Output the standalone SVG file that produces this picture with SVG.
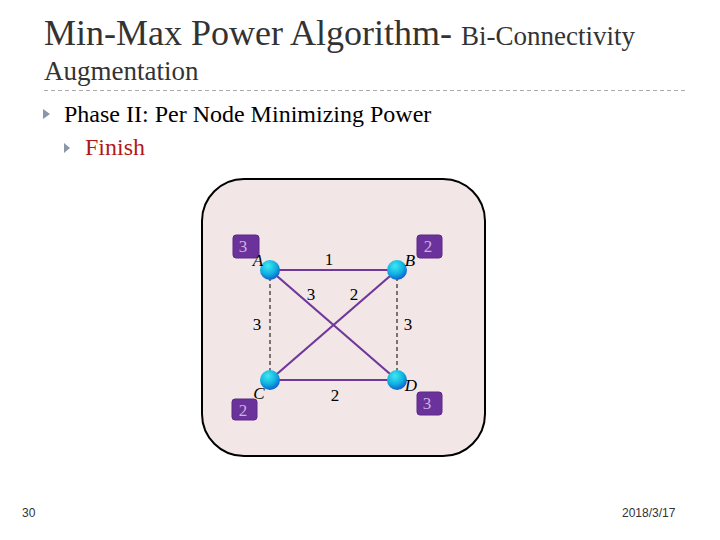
<svg xmlns="http://www.w3.org/2000/svg" width="720" height="540" viewBox="0 0 720 540">
<style>
.serif{font-family:'Times New Roman','Liberation Serif',Tinos,'DejaVu Serif',serif;}
.lbl{font-family:'Times New Roman','Liberation Serif',Tinos,'DejaVu Serif',serif;font-size:17px;fill:#000;text-anchor:middle;}
.nm{font-family:'Times New Roman','Liberation Serif',Tinos,'DejaVu Serif',serif;font-size:17px;font-style:italic;fill:#000;text-anchor:middle;}
.box{fill:#6a329a;stroke:#5a2a85;stroke-width:1;}
.boxt{font-family:'Times New Roman','Liberation Serif',Tinos,'DejaVu Serif',serif;font-size:17px;fill:#c8b4e0;text-anchor:middle;}
.edge{stroke:#70389a;stroke-width:2.2;fill:none;}
.dash{stroke:#000;stroke-width:1;stroke-dasharray:4,3;fill:none;}
.foot{font-family:'Liberation Sans Narrow','Liberation Sans',Arial,sans-serif;font-size:12px;fill:#333;}
</style>
<defs>
<radialGradient id="ng" cx="0.4" cy="0.3" r="0.7">
<stop offset="0" stop-color="#40e8f0"/>
<stop offset="0.6" stop-color="#10b0e0"/>
<stop offset="1" stop-color="#1060d0"/>
</radialGradient>
</defs>
<rect width="720" height="540" fill="#fff"/>
<text x="44" y="45" class="serif" font-size="36" fill="#333">Min-Max Power Algorithm- <tspan font-size="27">Bi-Connectivity</tspan></text>
<text x="44" y="80" class="serif" font-size="27" fill="#333">Augmentation</text>
<line x1="44" y1="90.5" x2="686" y2="90.5" stroke="#aaa" stroke-width="1" stroke-dasharray="4,3"/>
<path d="M43 109 L50 114 L43 119 Z" fill="#8898a8"/>
<text x="64" y="122" class="serif" font-size="24" fill="#000">Phase II: Per Node Minimizing Power</text>
<path d="M64 143 L70 148 L64 153 Z" fill="#8898a8"/>
<text x="85" y="155" class="serif" font-size="24" fill="#b01818">Finish</text>
<rect x="202" y="179" width="283" height="277" rx="42" ry="42" fill="#f2e6e6" stroke="#000" stroke-width="2"/>
<g id="connectors">
<line class="dash" x1="270" y1="270" x2="270" y2="380"/>
<line class="dash" x1="397" y1="270" x2="397" y2="380"/>
<line class="edge" x1="270" y1="270" x2="397" y2="270"/>
<line class="edge" x1="270" y1="380" x2="397" y2="380"/>
<line class="edge" x1="270" y1="270" x2="397" y2="380"/>
<line class="edge" x1="397" y1="270" x2="270" y2="380"/>
<text class="lbl" x="329" y="265">1</text>
<text class="lbl" x="311" y="300">3</text>
<text class="lbl" x="354" y="300">2</text>
<text class="lbl" x="257" y="330">3</text>
<text class="lbl" x="408" y="330">3</text>
<text class="lbl" x="335" y="401">2</text>
</g>
<g id="A">
<rect class="box" x="233" y="235" width="26" height="23" rx="3"/>
<text class="boxt" x="243" y="252">3</text>
<circle cx="270" cy="270" r="10" fill="url(#ng)"/>
<text class="nm" x="258" y="266">A</text>
</g>
<g id="B">
<rect class="box" x="417" y="235" width="25" height="23" rx="3"/>
<text class="boxt" x="428" y="252">2</text>
<circle cx="397" cy="270" r="10" fill="url(#ng)"/>
<text class="nm" x="410" y="266">B</text>
</g>
<g id="C">
<rect class="box" x="232" y="399" width="25" height="21" rx="3"/>
<text class="boxt" x="243" y="416">2</text>
<circle cx="270" cy="380" r="10" fill="url(#ng)"/>
<text class="nm" x="259" y="399">C</text>
</g>
<g id="D">
<rect class="box" x="417" y="392" width="25" height="23" rx="3"/>
<text class="boxt" x="427" y="409">3</text>
<circle cx="397" cy="380" r="10" fill="url(#ng)"/>
<text class="nm" x="411" y="391">D</text>
</g>
<text x="22" y="517" class="foot">30</text>
<text x="622" y="517" class="foot">2018/3/17</text>
</svg>
